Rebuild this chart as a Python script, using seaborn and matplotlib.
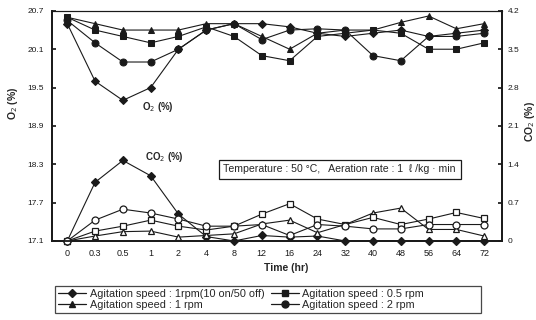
import matplotlib
matplotlib.use("Agg")
import matplotlib.pyplot as plt
from matplotlib.lines import Line2D
import seaborn as sns

# sampling times (categorical axis)
times = ["0", "0.3", "0.5", "1", "2", "4", "8", "12", "16", "24", "32", "40", "48", "56", "64", "72"]

# O2 (%) readings
o2_intermittent = [20.5, 19.6, 19.3, 19.5, 20.1, 20.4, 20.5, 20.5, 20.45, 20.35, 20.3, 20.35, 20.4, 20.3, 20.35, 20.4]
o2_half_rpm = [20.6, 20.4, 20.3, 20.2, 20.3, 20.45, 20.3, 20.0, 19.92, 20.3, 20.35, 20.4, 20.35, 20.1, 20.1, 20.2]
o2_one_rpm = [20.6, 20.5, 20.4, 20.4, 20.4, 20.5, 20.5, 20.3, 20.1, 20.35, 20.4, 20.4, 20.52, 20.62, 20.42, 20.5]
o2_two_rpm = [20.55, 20.2, 19.9, 19.9, 20.1, 20.4, 20.5, 20.25, 20.4, 20.42, 20.4, 20.0, 19.92, 20.3, 20.3, 20.35]

# CO2 (%) readings
co2_intermittent = [0, 1.07, 1.47, 1.19, 0.49, 0.08, 0, 0.1, 0.07, 0.09, 0, 0, 0, 0, 0, 0]
co2_half_rpm = [0, 0.18, 0.27, 0.38, 0.27, 0.2, 0.27, 0.49, 0.68, 0.4, 0.3, 0.43, 0.3, 0.4, 0.52, 0.41]
co2_one_rpm = [0, 0.09, 0.17, 0.18, 0.07, 0.1, 0.13, 0.31, 0.38, 0.15, 0.3, 0.51, 0.6, 0.21, 0.21, 0.09]
co2_two_rpm = [0, 0.38, 0.58, 0.51, 0.4, 0.27, 0.27, 0.3, 0.1, 0.3, 0.27, 0.22, 0.22, 0.3, 0.3, 0.3]

labels = ["Agitation speed : 1rpm(10 on/50 off)", "Agitation speed : 1 rpm",
          "Agitation speed : 0.5 rpm" + " " * 18, "Agitation speed : 2 rpm" + " " * 20]
markers = ["D", "^", "s", "o"]

sns.set_theme(style="ticks")
plt.rcParams['font.family'] = ['Liberation Sans', 'DejaVu Sans']

fig = plt.figure(figsize=(5.36, 3.2), dpi=100)
ax = fig.add_axes([0.097, 0.247, 0.84, 0.719])
ax2 = ax.twinx()

o2_sets = [o2_intermittent, o2_one_rpm, o2_half_rpm, o2_two_rpm]
co2_sets = [co2_intermittent, co2_one_rpm, co2_half_rpm, co2_two_rpm]

for vals, m in zip(o2_sets, markers):
    ms = 4 if m == "D" else 5
    sns.lineplot(x=times, y=vals, ax=ax, color="k", lw=0.8, marker=m, markersize=ms,
                 markerfacecolor="k", markeredgecolor="k", sort=False, clip_on=False)

for vals, m in zip(co2_sets, markers):
    face = "k" if m == "D" else "white"
    ms = 4 if m == "D" else 5
    sns.lineplot(x=times, y=vals, ax=ax2, color="k", lw=0.8, marker=m, markersize=ms,
                 markerfacecolor=face, markeredgecolor="k", markeredgewidth=0.9,
                 sort=False, clip_on=False)

ax.set_xlim(-0.55, 15.65)
ax.set_ylim(17.1, 20.7)
ax2.set_ylim(0, 4.2)
ax.set_yticks([17.1, 17.7, 18.3, 18.9, 19.5, 20.1, 20.7])
ax.set_yticklabels(["17.1", "17.7", "18.3", "18.9", "19.5", "20.1", "20.7"])
ax2.set_yticks([0, 0.7, 1.4, 2.1, 2.8, 3.5, 4.2])
ax2.set_yticklabels(["0", "0.7", "1.4", "2.1", "2.8", "3.5", "4.2"])

ax.tick_params(axis="y", direction="in", length=3, labelsize=6, pad=6, colors="k")
ax2.tick_params(axis="y", direction="in", length=3, labelsize=6, pad=4, colors="k")
ax.tick_params(axis="x", length=0, labelsize=6.5, pad=6, colors="k")

for a in (ax, ax2):
    for side in ("left", "right", "bottom"):
        a.spines[side].set_linewidth(1.3)
        a.spines[side].set_color("k")
    a.spines["top"].set_linewidth(0.8)
    a.spines["top"].set_color("k")

ax.set_xlabel("Time (hr)", fontsize=7.5, fontweight="bold", labelpad=4)
ax.xaxis.set_label_coords(0.52, -0.095)
ax.set_ylabel("O$_2$ (%)", fontsize=7.5, fontweight="bold")
ax.yaxis.set_label_coords(-0.07, 0.6)
ax2.set_ylabel("CO$_2$ (%)", fontsize=7.5, fontweight="bold")
ax2.yaxis.set_label_coords(1.047, 0.52)

ax.text(3.27, 19.2, "O$_2$ (%)", fontsize=7, fontweight="bold", ha="center", va="center")
ax.text(3.5, 18.42, "CO$_2$ (%)", fontsize=7, fontweight="bold", ha="center", va="center")
ax.text(9.8, 18.22, "Temperature : 50 \u00b0C,   Aeration rate : 1  \u2113 /kg \u00b7 min",
        fontsize=7.6, ha="center", va="center",
        bbox=dict(boxstyle="square,pad=0.45", fc="white", ec="k", lw=0.9))

handles = [Line2D([0], [0], color="k", lw=0.9, marker=m, markersize=4 if m == "D" else 5)
           for m in markers]
leg = fig.legend(handles, labels, loc="center", bbox_to_anchor=(0.5, 0.064), ncol=2,
                 fontsize=7.8, frameon=True, fancybox=False, edgecolor="k",
                 handlelength=2.6, handletextpad=0.3, columnspacing=0.6,
                 labelspacing=0.1, borderpad=0.25)
leg.get_frame().set_linewidth(0.9)

fig.savefig("out.png", dpi=100)
